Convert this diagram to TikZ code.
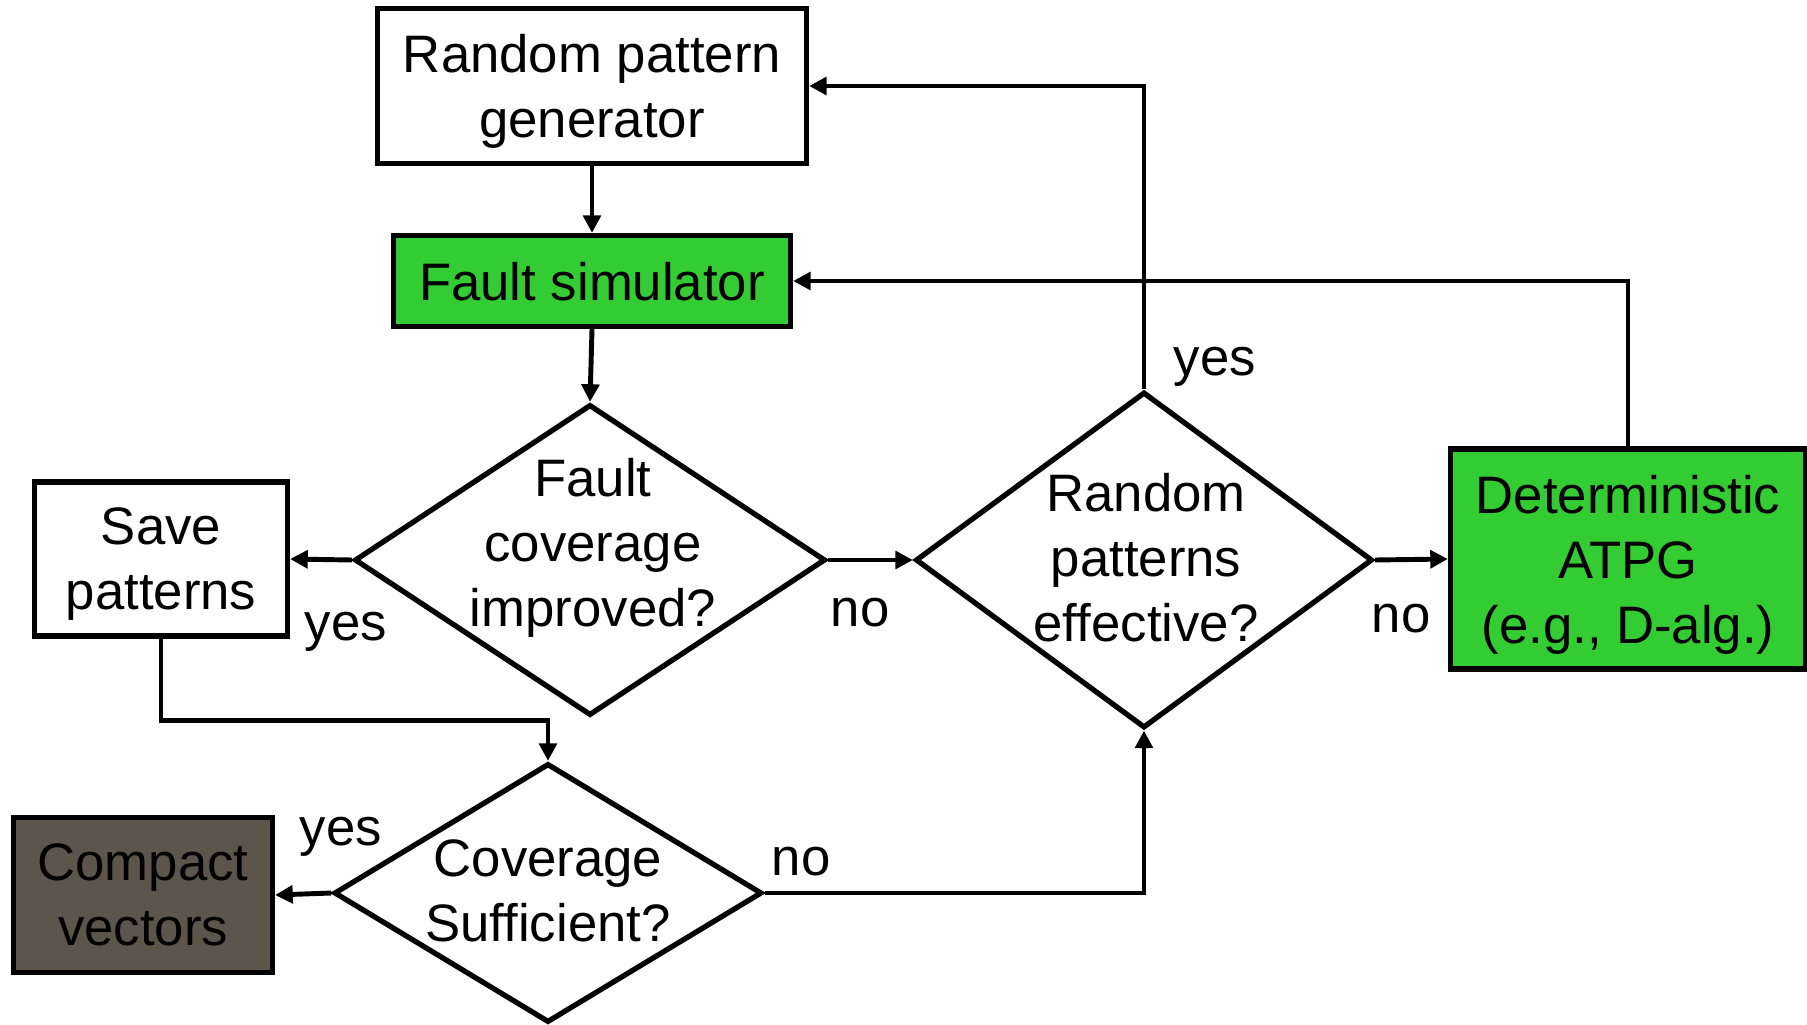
\documentclass[tikz,border=0pt]{standalone}
\usepackage{fontspec}
\setmainfont{Liberation Sans}
\usetikzlibrary{arrows.meta,shapes.geometric}

\definecolor{simgreen}{RGB}{51,204,51}
\definecolor{vecgray}{RGB}{92,85,76}

\begin{document}
\begin{tikzpicture}[>={Triangle[length=5pt,width=5pt]},line width=1.4pt,
  font=\fontsize{15}{18.5}\selectfont,
  box/.style={draw,line width=1.5pt,align=center,inner sep=0pt,text depth=0pt},
  dia/.style={draw,diamond,line width=1.5pt,inner sep=0pt},
  lbl/.style={inner sep=0pt}]
\useasboundingbox (0,0) rectangle (18.07,10.24);

\node[box,minimum width=4.29cm,minimum height=1.55cm] (rpg) at (5.92,9.38) {Random pattern\\generator};
\node[box,fill=simgreen,minimum width=3.97cm,minimum height=0.91cm] (fsim) at (5.92,7.43) {Fault simulator};

\node[dia,minimum width=4.71cm,minimum height=3.11cm] (fcov) at (5.90,4.64) {};
\node[align=center] (fcovtext) at (5.93,4.76) {Fault\\coverage\\improved?};

\node[box,minimum width=2.53cm,minimum height=1.54cm] (save) at (1.61,4.65) {Save\\patterns};

\node[dia,minimum width=4.57cm,minimum height=3.36cm] (rpe) at (11.44,4.64) {};
\node[align=center] (rpetext) at (11.46,4.66) {Random\\patterns\\effective?};

\node[box,fill=simgreen,minimum width=3.55cm,minimum height=2.20cm] (atpg) at (16.28,4.65) {Deterministic\\ATPG\\(e.g., D-alg.)};

\node[dia,minimum width=4.28cm,minimum height=2.59cm] (cs) at (5.48,1.31) {};
\node[align=center] (cstext) at (5.48,1.33) {Coverage\\Sufficient?};

\node[box,fill=vecgray,minimum width=2.59cm,minimum height=1.55cm] (cvec) at (1.43,1.29) {Compact\\vectors};

% connectors
\draw[->] (rpg) -- (fsim);
\draw[->] (fsim.south) -- (fcov.north);
\draw[->] (fcov.west) -- (save.east);
\draw[->] (fcov.east) -- (rpe.west);
\draw[->] (rpe.east) -- (atpg.west);
\draw[->] (rpe.north) |- (rpg.east);
\draw[->] (atpg.north) |- (fsim.east);
\draw[->] (save.south) -- ++(0,-0.82) -| (cs.north);
\draw[->] (cs.west) -- (cvec.east);
\draw[->] (cs.east) -| (rpe.south);

% yes / no labels
\node[lbl] (yes1) at (3.46,3.92) {yes};
\node[lbl] (no1) at (8.60,4.11) {no};
\node[lbl] (no2) at (14.01,4.05) {no};
\node[lbl] (yes2) at (12.15,6.57) {yes};
\node[lbl] (yes3) at (3.41,1.87) {yes};
\node[lbl] (no3) at (8.01,1.62) {no};
\end{tikzpicture}
\end{document}
